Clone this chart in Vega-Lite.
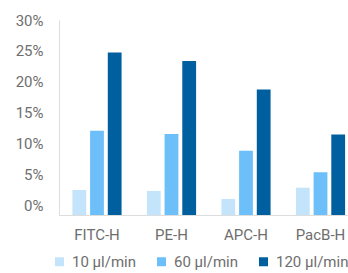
{
  "$schema": "https://vega.github.io/schema/vega-lite/v6.json",
  "autosize": {"type": "none"},
  "padding": {"left": 59, "top": 20, "right": 0, "bottom": 58},
  "width": 299.5,
  "height": 195,
  "background": "white",
  "data": {
    "values": [
      {"channel": "FITC-H", "flow": "10 µl/min", "value": 3.85},
      {"channel": "FITC-H", "flow": "60 µl/min", "value": 12.97},
      {"channel": "FITC-H", "flow": "120 µl/min", "value": 25.0},
      {"channel": "PE-H", "flow": "10 µl/min", "value": 3.7},
      {"channel": "PE-H", "flow": "60 µl/min", "value": 12.46},
      {"channel": "PE-H", "flow": "120 µl/min", "value": 23.7},
      {"channel": "APC-H", "flow": "10 µl/min", "value": 2.46},
      {"channel": "APC-H", "flow": "60 µl/min", "value": 9.9},
      {"channel": "APC-H", "flow": "120 µl/min", "value": 19.3},
      {"channel": "PacB-H", "flow": "10 µl/min", "value": 4.2},
      {"channel": "PacB-H", "flow": "60 µl/min", "value": 6.57},
      {"channel": "PacB-H", "flow": "120 µl/min", "value": 12.4}
    ]
  },
  "mark": {"type": "bar"},
  "encoding": {
    "x": {
      "field": "channel",
      "type": "nominal",
      "sort": ["FITC-H", "PE-H", "APC-H", "PacB-H"],
      "scale": {"paddingInner": 0.34, "paddingOuter": 0.18},
      "axis": {
        "title": null,
        "labelAngle": 0,
        "ticks": false,
        "domainColor": "#dddddd",
        "labelFont": "Roboto",
        "labelFontSize": 15,
        "labelColor": "#6e6e6e",
        "labelPadding": 12
      }
    },
    "xOffset": {
      "field": "flow",
      "type": "nominal",
      "sort": ["10 µl/min", "60 µl/min", "120 µl/min"],
      "scale": {"paddingInner": 0.22}
    },
    "y": {
      "field": "value",
      "type": "quantitative",
      "scale": {"domain": [0, 30], "nice": false},
      "axis": {
        "title": null,
        "values": [0, 5, 10, 15, 20, 25, 30],
        "labelExpr": "datum.value + '%'",
        "labelOffset": {"expr": "-(30 - datum.value) / 3"},
        "labelFlush": false,
        "grid": false,
        "ticks": false,
        "domainColor": "#dddddd",
        "labelFont": "Roboto",
        "labelFontSize": 15,
        "labelColor": "#6e6e6e",
        "labelPadding": 16
      }
    },
    "color": {
      "field": "flow",
      "type": "nominal",
      "sort": ["10 µl/min", "60 µl/min", "120 µl/min"],
      "scale": {
        "domain": ["10 µl/min", "60 µl/min", "120 µl/min"],
        "range": ["#c4e4fb", "#6cbff8", "#005f9f"]
      },
      "legend": {
        "title": null,
        "orient": "bottom",
        "direction": "horizontal",
        "symbolType": "square",
        "symbolSize": 81,
        "symbolStrokeWidth": 0,
        "symbolOffset": -7,
        "labelFont": "Roboto",
        "labelFontSize": 15,
        "labelColor": "#6e6e6e",
        "labelOffset": 5,
        "columnPadding": 20,
        "padding": 0,
        "offset": 12
      }
    }
  },
  "config": {"view": {"stroke": null}}
}
